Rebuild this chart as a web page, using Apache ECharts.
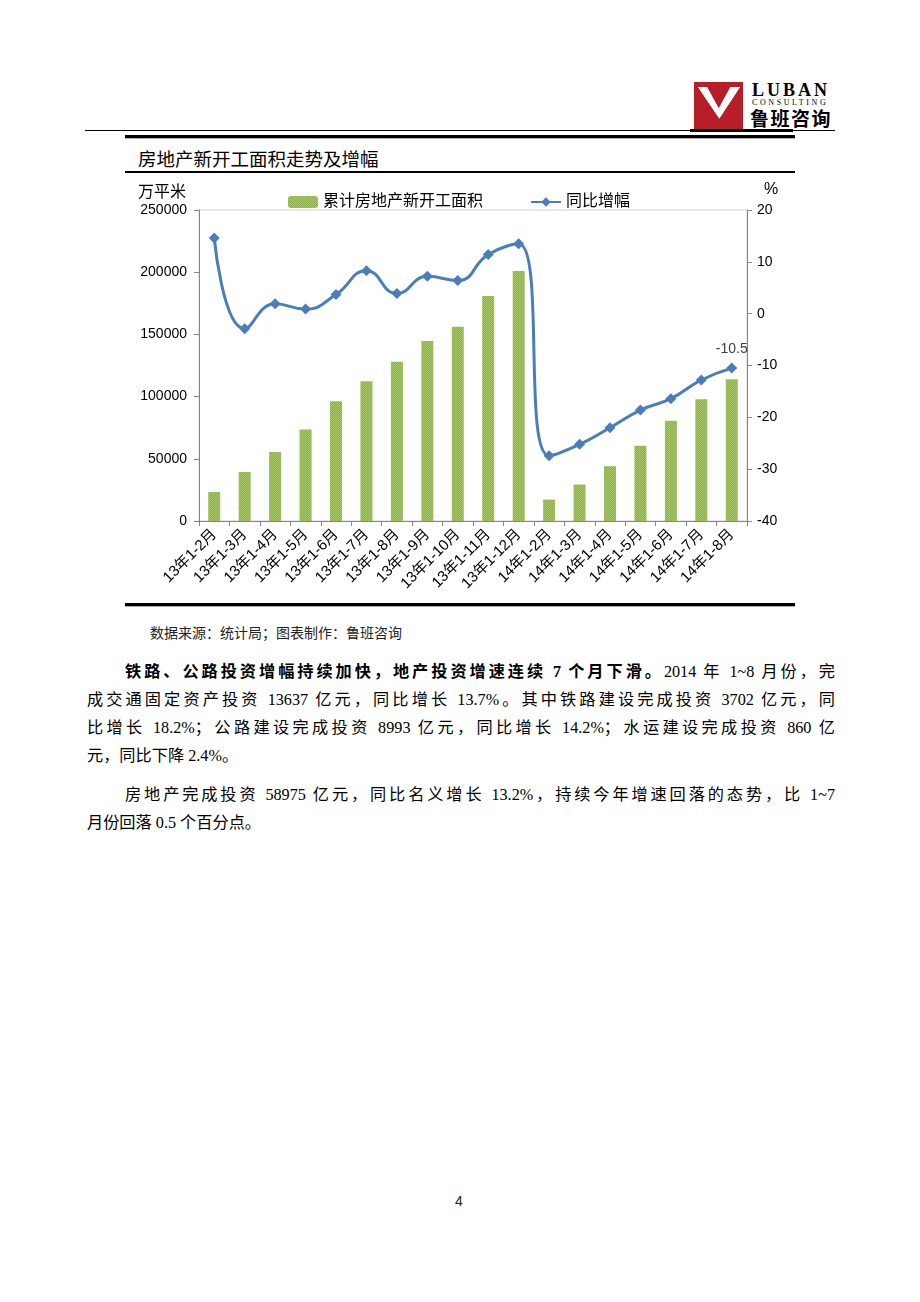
<!DOCTYPE html>
<html>
<head>
<meta charset="utf-8">
<script src="https://cdn.jsdelivr.net/npm/echarts@6.0.0/dist/echarts.min.js"></script>
<style>
  body { margin: 0; background: #fff; }
  .page { position: relative; width: 920px; height: 1302px; overflow: hidden; background: #fff; }
  .abs { position: absolute; }
  .rule { position: absolute; background: #000; }
  .cn { font-family: "Noto Sans CJK SC", sans-serif; color: #000; }
  .para {
    position: absolute; font-family: "Liberation Serif", "Noto Sans CJK SC", serif;
    font-size: 16.2px; line-height: 20px; color: #000; white-space: nowrap;
  }
  .para.full { text-align: justify; text-align-last: justify; white-space: normal; }
  .para b { font-family: "Liberation Serif", "Noto Sans CJK SC", serif; font-weight: 700; }
  #chart { position: absolute; left: 0; top: 175px; width: 920px; height: 430px; }
</style>
</head>
<body>
<div class="page">
  <!-- 页眉 logo -->
  <svg class="abs" style="left:694px;top:82px" width="49" height="47">
    <path fill="#b61f27" fill-rule="evenodd"
      d="M0 0H49V47H0Z M4 5H46L25.3 36.5Z M13 5H36.5L24.7 26.5Z"/>
    <path fill="#fff" fill-rule="evenodd" d="M4 5H46L25.3 36.5Z M13 5H36.5L24.7 26.5Z"/>
  </svg>
  <div class="abs" style="left:752px;top:80px;font:700 18px 'Liberation Serif';letter-spacing:3px;line-height:20px">LUBAN</div>
  <div class="abs" style="left:752px;top:98px;font:400 8px 'Liberation Serif';letter-spacing:2.6px;line-height:10px">CONSULTING</div>
  <div class="abs cn" style="left:750px;top:107px;font-size:19px;font-weight:700;letter-spacing:1.5px;line-height:22px">鲁班咨询</div>
  <div class="rule" style="left:85px;top:130px;width:750px;height:1px"></div>
  <div class="rule" style="left:690px;top:129px;width:103px;height:3px"></div>

  <!-- 图表框 -->
  <div class="rule" style="left:125px;top:135px;width:670px;height:3px"></div>
  <div class="rule" style="left:125px;top:138px;width:670px;height:1px;background:#aaa"></div>
  <div class="abs cn" style="left:138px;top:147px;font-size:18.5px;line-height:22px">房地产新开工面积走势及增幅</div>
  <div class="rule" style="left:125px;top:171px;width:670px;height:2px"></div>
  <div id="chart"></div>
  <div class="rule" style="left:125px;top:603px;width:670px;height:3px"></div>
  <div class="rule" style="left:125px;top:606px;width:670px;height:1px;background:#aaa"></div>
  <div class="abs cn" style="left:150px;top:622px;font-size:14px;line-height:20px;color:#222">数据来源：统计局；图表制作：鲁班咨询</div>

  <!-- 正文 -->
  <div class="para full" style="left:125px;top:662px;width:710px"><b>铁路、公路投资增幅持续加快，地产投资增速连续 7 个月下滑。</b>2014 年 1~8 月份，完</div>
  <div class="para full" style="left:87px;top:690px;width:748px">成交通固定资产投资 13637 亿元，同比增长 13.7%。其中铁路建设完成投资 3702 亿元，同</div>
  <div class="para full" style="left:87px;top:718px;width:748px">比增长 18.2%；公路建设完成投资 8993 亿元，同比增长 14.2%；水运建设完成投资 860 亿</div>
  <div class="para" style="left:87px;top:746px">元，同比下降 2.4%。</div>
  <div class="para full" style="left:125px;top:785px;width:710px">房地产完成投资 58975 亿元，同比名义增长 13.2%，持续今年增速回落的态势，比 1~7</div>
  <div class="para" style="left:87px;top:813px">月份回落 0.5 个百分点。</div>

  <div class="abs" style="left:455px;top:1193px;font:14px 'Liberation Sans';color:#222">4</div>
</div>

<script>
  // 房地产新开工面积走势及增幅
  const categories = ['13年1-2月', '13年1-3月', '13年1-4月', '13年1-5月', '13年1-6月', '13年1-7月',
    '13年1-8月', '13年1-9月', '13年1-10月', '13年1-11月', '13年1-12月',
    '14年1-2月', '14年1-3月', '14年1-4月', '14年1-5月', '14年1-6月', '14年1-7月', '14年1-8月']
  // 累计房地产新开工面积（万平米）
  const areaValues = [23300, 39400, 55500, 73500, 96300, 112400, 128000, 144600, 156100, 180800, 200900,
    17200, 29300, 44000, 60400, 80500, 97900, 114000]
  // 同比增幅（%）
  const growthValues = [14.6, -2.9, 1.9, 0.9, 3.7, 8.3, 3.9, 7.2, 6.4, 11.4, 13.5,
    -27.4, -25.2, -22.0, -18.6, -16.4, -12.8, -10.5]
  const areaTicks = [0, 250000, 50000]
  const growthTicks = [-40, 20, 10]

  const chartFont = '"Liberation Sans", "Noto Sans CJK SC", sans-serif'
  const axisGray = '#868686'

  // 柱子的细点纹理
  const tex = document.createElement('canvas')
  tex.width = 2
  tex.height = 2
  const tctx = tex.getContext('2d')
  tctx.fillStyle = '#a6c566'
  tctx.fillRect(0, 0, 2, 2)
  tctx.fillStyle = '#8fb04c'
  tctx.fillRect(0, 0, 1, 1)
  tctx.fillRect(1, 1, 1, 1)

  const lastIdx = growthValues.length - 1
  const lineData = growthValues.map((v, i) => i === lastIdx ? { value: v, label: { show: true } } : v)

  const myChart = echarts.init(document.getElementById('chart'), null, { renderer: 'canvas' })
  myChart.setOption({
    animation: false,
    textStyle: { fontFamily: chartFont, color: '#000' },
    grid: {
      left: 199, top: 35, width: 548, height: 311,
      show: true, borderColor: '#d0d0d0', borderWidth: 1
    },
    legend: {
      left: 283, top: 14,
      itemWidth: 30, itemHeight: 12, itemGap: 47,
      textStyle: { fontSize: 16, color: '#000', fontFamily: chartFont },
      data: ['累计房地产新开工面积', '同比增幅']
    },
    xAxis: {
      type: 'category',
      data: categories,
      axisLine: { onZero: false, lineStyle: { color: axisGray } },
      axisTick: { show: true, length: 5, lineStyle: { color: axisGray } },
      axisLabel: { interval: 0, rotate: 45, fontSize: 15, color: '#000', margin: 11 }
    },
    yAxis: [
      {
        type: 'value',
        min: areaTicks[0], max: areaTicks[1], interval: areaTicks[2],
        name: '万平米',
        nameLocation: 'end',
        nameGap: 9,
        nameTextStyle: { fontSize: 16, color: '#000', align: 'right', padding: [0, 13, 0, 0] },
        axisLine: { show: true, lineStyle: { color: axisGray } },
        axisTick: { show: true, length: 5, lineStyle: { color: axisGray } },
        axisLabel: { fontSize: 14, color: '#000', margin: 12, formatter: v => String(v) },
        splitLine: { show: false }
      },
      {
        type: 'value',
        min: growthTicks[0], max: growthTicks[1], interval: growthTicks[2],
        name: '%',
        nameLocation: 'end',
        nameGap: 12,
        nameTextStyle: { fontSize: 16, color: '#000', align: 'left', padding: [0, 0, 0, 17] },
        axisLine: { show: true, lineStyle: { color: axisGray } },
        axisTick: { show: true, length: 5, lineStyle: { color: axisGray } },
        axisLabel: { fontSize: 14, color: '#000', margin: 10 },
        splitLine: { show: false }
      }
    ],
    series: [
      {
        name: '累计房地产新开工面积',
        type: 'bar',
        yAxisIndex: 0,
        barWidth: 12,
        itemStyle: { color: { image: tex, repeat: 'repeat' } },
        data: areaValues
      },
      {
        name: '同比增幅',
        type: 'line',
        yAxisIndex: 1,
        smooth: 0.5,
        symbol: 'diamond',
        symbolSize: 11,
        itemStyle: { color: '#4a7ebb' },
        lineStyle: { color: '#4a7ebb', width: 3 },
        label: { show: false, position: 'top', fontSize: 14, color: '#404040', distance: 6 },
        data: lineData
      }
    ]
  })
</script>
</body>
</html>
